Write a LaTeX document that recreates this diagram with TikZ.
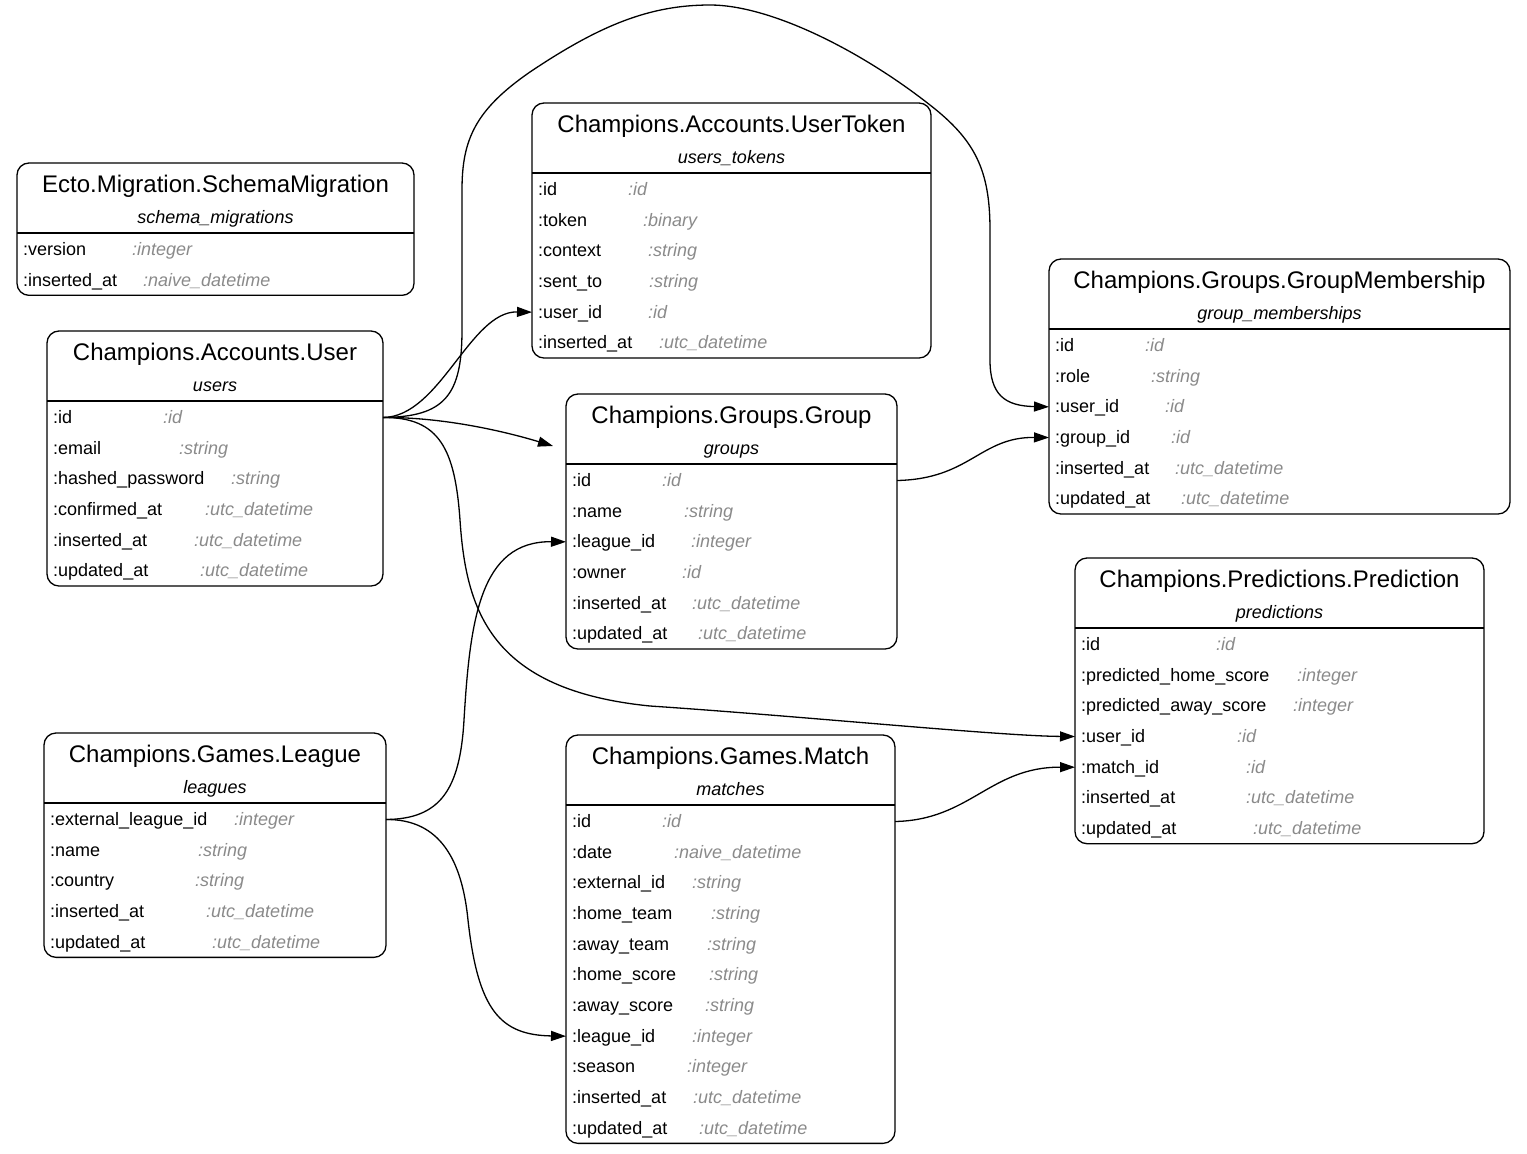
\documentclass[tikz,border=0pt]{standalone}
\usepackage{fontspec}
\setmainfont{Liberation Sans}
\usetikzlibrary{arrows.meta}
\definecolor{typegray}{RGB}{138,138,138}
\tikzset{
  entitybox/.style={draw, line width=1.3pt, rounded corners=12pt, inner sep=0pt, outer sep=0pt, anchor=north west},
  titletext/.style={inner sep=0pt, anchor=base, font=\fontsize{24}{28}\selectfont},
  subtext/.style={inner sep=0pt, anchor=base, font=\fontsize{18}{22}\selectfont\itshape},
  fieldname/.style={inner sep=0pt, anchor=base west, text height=14pt, text depth=2pt, font=\fontsize{18}{22}\selectfont},
  fieldtype/.style={inner sep=0pt, anchor=base west, text=typegray, font=\fontsize{18}{22}\selectfont\itshape},
  rule/.style={line width=1.3pt},
  fk/.style={line width=1.3pt, -{Triangle[length=15pt,width=10pt]}},
}
% #1 node name, #2 left, #3 right, #4 top, #5 field count, #6 schema, #7 table, #8 fields
\newcommand{\entity}[8]{%
  \node[entitybox, minimum width={#3-#2}, minimum height={71+30.67*#5}] (#1) at (#2,#4) {};
  \node[titletext] (#1-title) at ({(#2+#3)/2},{#4+29}) {#6};
  \node[subtext] (#1-table) at ({(#2+#3)/2},{#4+60}) {#7};
  \draw[rule] ([yshift=-70pt]#1.north west) -- ([yshift=-70pt]#1.north east);
  \foreach \fname/\ftype/\fx [count=\i] in {#8} {
    \node[fieldname] (#1-\i) at ({#2+6},{#4+92.5+30.67*(\i-1)}) {\fname};
    \node[fieldtype] (#1-\i-type) at (\fx,{#4+92.5+30.67*(\i-1)}) {\ftype};
  }%
}
\begin{document}
\begin{tikzpicture}[x=1pt, y=-1pt]
\useasboundingbox (0,0) rectangle (1527,1154);

\entity{schema}{17}{414}{163}{2}{Ecto.Migration.SchemaMigration}{schema\_migrations}{
  :version/:integer/132, :inserted\_at/:naive\_datetime/143}

\entity{user}{47}{383}{331}{6}{Champions.Accounts.User}{users}{
  :id/:id/163, :email/:string/179, :hashed\_password/:string/231,
  :confirmed\_at/:utc\_datetime/205, :inserted\_at/:utc\_datetime/194,
  :updated\_at/:utc\_datetime/200}

\entity{usertoken}{532}{931}{103}{6}{Champions.Accounts.UserToken}{users\_tokens}{
  :id/:id/628, :token/:binary/643, :context/:string/648, :sent\_to/:string/649,
  :user\_id/:id/648, :inserted\_at/:utc\_datetime/659}

\entity{membership}{1049}{1510}{259}{6}{Champions.Groups.GroupMembership}{group\_memberships}{
  :id/:id/1145, :role/:string/1151, :user\_id/:id/1165, :group\_id/:id/1171,
  :inserted\_at/:utc\_datetime/1175, :updated\_at/:utc\_datetime/1181}

\entity{group}{566}{897}{394}{6}{Champions.Groups.Group}{groups}{
  :id/:id/662, :name/:string/684, :league\_id/:integer/691, :owner/:id/682,
  :inserted\_at/:utc\_datetime/692, :updated\_at/:utc\_datetime/698}

\entity{prediction}{1075}{1484}{558}{7}{Champions.Predictions.Prediction}{predictions}{
  :id/:id/1216, :predicted\_home\_score/:integer/1297,
  :predicted\_away\_score/:integer/1293, :user\_id/:id/1237, :match\_id/:id/1246,
  :inserted\_at/:utc\_datetime/1246, :updated\_at/:utc\_datetime/1253}

\entity{league}{44}{386}{733}{5}{Champions.Games.League}{leagues}{
  :external\_league\_id/:integer/234, :name/:string/198, :country/:string/195,
  :inserted\_at/:utc\_datetime/206, :updated\_at/:utc\_datetime/212}

\entity{match}{566}{895}{735}{11}{Champions.Games.Match}{matches}{
  :id/:id/662, :date/:naive\_datetime/674, :external\_id/:string/692,
  :home\_team/:string/711, :away\_team/:string/707, :home\_score/:string/709,
  :away\_score/:string/705, :league\_id/:integer/692, :season/:integer/687,
  :inserted\_at/:utc\_datetime/693, :updated\_at/:utc\_datetime/699}

% foreign keys
\coordinate (grouptip) at (553,446);

\draw[fk] (user.east |- user-1) .. controls (440,417) and (470,311) .. (usertoken.west |- usertoken-5);

\draw[fk] (user.east |- user-1) .. controls (445,417) and (462,395) .. (462,330)
  -- (462,190)
  .. controls (462,140) and (475,110) .. (530,72)
  .. controls (600,25) and (650,5) .. (710,5)
  .. controls (770,5) and (860,50) .. (930,105)
  .. controls (975,140) and (990,170) .. (990,230)
  -- (990,360)
  .. controls (990,395) and (1005,406) .. (membership.west |- membership-3);

\draw[fk] (user.east |- user-1) .. controls (440,417) and (500,430) .. (grouptip);

\draw[fk] (user.east |- user-1) .. controls (440,417) and (455,450) .. (460,520)
  .. controls (466,610) and (490,690) .. (650,706)
  .. controls (800,716) and (1000,736) .. (prediction.west |- prediction-4);

\draw[fk] (group.east |- group-1) .. controls (970,479) and (980,437) .. (membership.west |- membership-4);

\draw[fk] (league.east |- league-1) .. controls (440,819) and (460,790) .. (464,720)
  .. controls (470,620) and (480,541) .. (group.west |- group-3);

\draw[fk] (league.east |- league-1) .. controls (440,819) and (462,860) .. (468,920)
  .. controls (478,1010) and (500,1035) .. (match.west |- match-8);

\draw[fk] (match.east |- match-1) .. controls (970,820) and (990,767) .. (prediction.west |- prediction-5);
\end{tikzpicture}
\end{document}
